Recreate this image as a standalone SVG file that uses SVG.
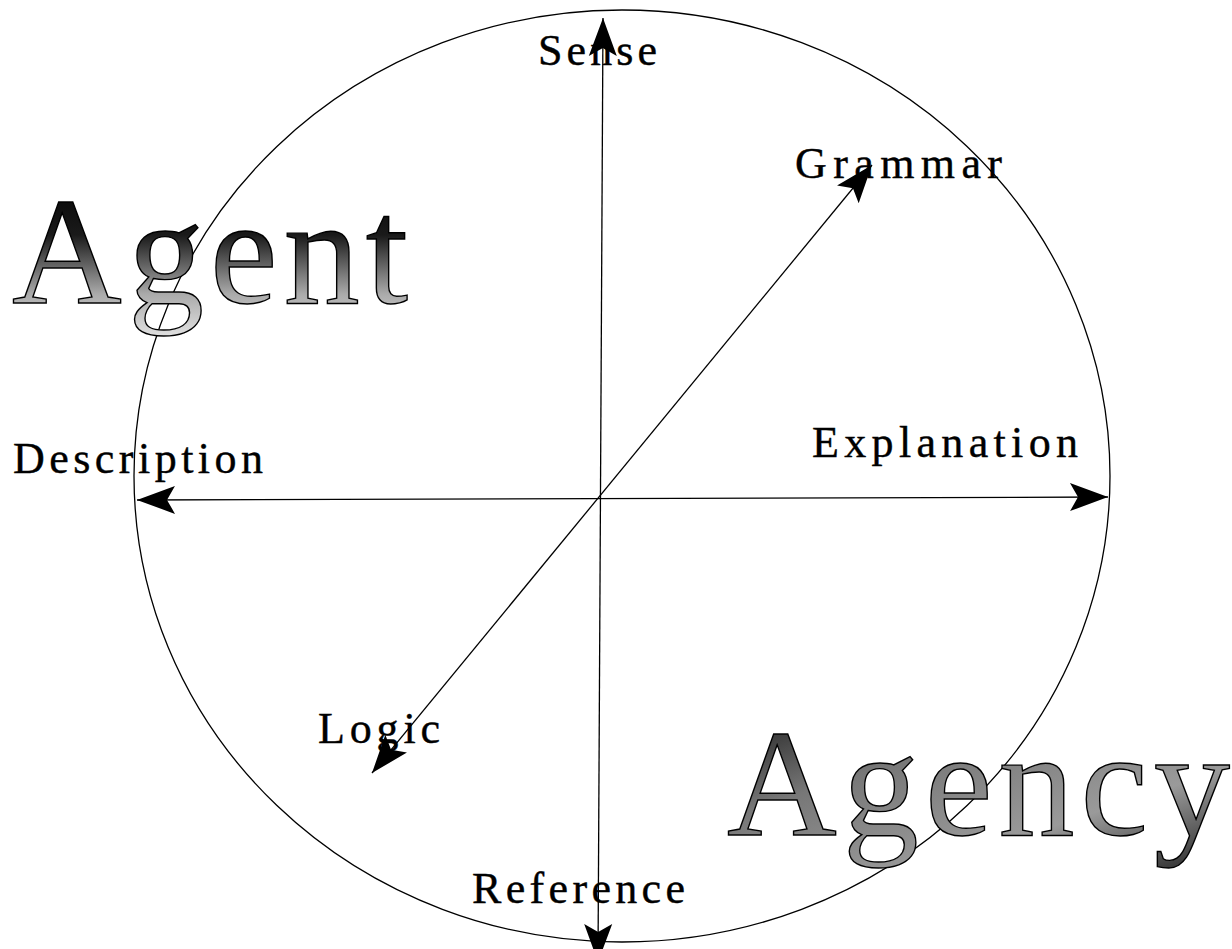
<svg xmlns="http://www.w3.org/2000/svg" width="1232" height="949" viewBox="0 0 1232 949">
<style>
.lbl{font-family:"Liberation Serif","Times New Roman",serif;font-size:44px;fill:#000;stroke:#000;stroke-width:0.4}
.big{font-family:"Liberation Serif","Times New Roman",serif;font-size:152px;stroke:#000;stroke-width:1.4}
.ln{stroke:#000;stroke-width:1.3;fill:none}
</style>
<defs>
<marker id="ah" markerUnits="userSpaceOnUse" viewBox="-40 -16 42 32" refX="0" refY="0" markerWidth="42" markerHeight="32" orient="auto-start-reverse" overflow="visible">
<path d="M0,0 L-38,-14 L-30,0 L-38,14 Z" fill="#000"/>
</marker>
<linearGradient id="gAgent" x1="0" y1="0" x2="0" y2="1">
<stop offset="0" stop-color="#000"/>
<stop offset="0.4" stop-color="#1a1a1a"/>
<stop offset="0.75" stop-color="#aaa"/>
<stop offset="1" stop-color="#e0e0e0"/>
</linearGradient>
<linearGradient id="gAgency" x1="0" y1="0" x2="1" y2="1">
<stop offset="0" stop-color="#111"/>
<stop offset="0.35" stop-color="#777"/>
<stop offset="0.7" stop-color="#9a9a9a"/>
<stop offset="1" stop-color="#222"/>
</linearGradient>
</defs>
<rect width="1232" height="949" fill="#fff"/>
<g id="circle">
<ellipse cx="622" cy="476" rx="488" ry="466" class="ln"/>
</g>
<g id="connectors">
<line x1="598" y1="962" x2="603" y2="18" class="ln" marker-start="url(#ah)" marker-end="url(#ah)"/>
<line x1="1108" y1="497" x2="137" y2="500" class="ln" marker-start="url(#ah)" marker-end="url(#ah)"/>
<line x1="372" y1="773" x2="872" y2="165" class="ln" marker-start="url(#ah)" marker-end="url(#ah)"/>
</g>
<g id="sense"><text class="lbl" x="538" y="65" textLength="119" lengthAdjust="spacing">Sense</text></g>
<g id="grammar"><text class="lbl" x="795" y="178" textLength="207" lengthAdjust="spacing">Grammar</text></g>
<g id="explanation"><text class="lbl" x="812" y="457" textLength="266" lengthAdjust="spacing">Explanation</text></g>
<g id="description"><text class="lbl" x="13" y="473" textLength="250" lengthAdjust="spacing">Description</text></g>
<g id="logic"><text class="lbl" x="318" y="743" textLength="122" lengthAdjust="spacing">Logic</text></g>
<g id="reference"><text class="lbl" x="472" y="903" textLength="213" lengthAdjust="spacing">Reference</text></g>
<g id="agent"><text class="big" x="12" y="303" textLength="396" lengthAdjust="spacing" fill="url(#gAgent)">Agent</text></g>
<g id="agency"><text class="big" x="727" y="835" textLength="503" lengthAdjust="spacing" fill="url(#gAgency)">Agency</text></g>
</svg>
